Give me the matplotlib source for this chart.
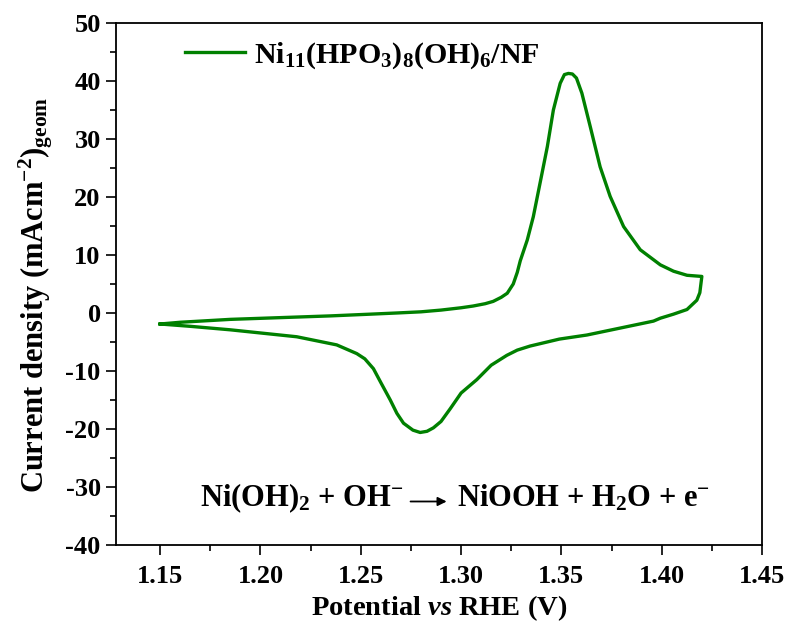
import numpy as np
import matplotlib
matplotlib.use("Agg")
import matplotlib.pyplot as plt
from matplotlib.ticker import MultipleLocator

plt.rcParams['font.family'] = ['Liberation Serif', 'DejaVu Serif']
plt.rcParams['font.weight'] = 'bold'
plt.rcParams['axes.unicode_minus'] = False
plt.rcParams['mathtext.fontset'] = 'custom'
plt.rcParams['mathtext.rm'] = 'Liberation Serif:bold'
plt.rcParams['mathtext.bf'] = 'Liberation Serif:bold'
plt.rcParams['mathtext.it'] = 'Liberation Serif:italic:bold'

# anodic sweep (1.15 -> 1.42 V)
v_anodic = [1.150, 1.160, 1.185, 1.210, 1.235, 1.255, 1.268, 1.280, 1.290, 1.300,
            1.306, 1.312, 1.316, 1.320, 1.323, 1.326, 1.328, 1.3295, 1.333, 1.336,
            1.340, 1.343, 1.346, 1.3494, 1.3515, 1.3535, 1.3555, 1.3575, 1.3602, 1.3644,
            1.3693, 1.3743, 1.381, 1.3893, 1.3993, 1.4059, 1.4126, 1.4200]
j_anodic = [-1.9, -1.6, -1.1, -0.8, -0.5, -0.2, 0.0, 0.2, 0.5, 0.9,
            1.2, 1.6, 2.0, 2.7, 3.4, 5.0, 7.0, 9.0, 12.6, 16.6,
            23.5, 28.7, 35.0, 39.6, 41.1, 41.3, 41.2, 40.5, 37.9, 32.1,
            25.2, 20.1, 14.9, 10.9, 8.3, 7.2, 6.5, 6.3]

# cathodic sweep (1.42 -> 1.15 V)
v_cathodic = [1.4200, 1.4190, 1.4175, 1.4126, 1.4059, 1.3993, 1.3959, 1.3793, 1.3627, 1.349,
              1.3344, 1.328, 1.3228, 1.315, 1.3078, 1.300, 1.2946, 1.2900, 1.2862, 1.2830,
              1.2796, 1.2760, 1.2713, 1.2680, 1.2647, 1.2600, 1.2563, 1.2520, 1.2480, 1.2380,
              1.2181, 1.1849, 1.1650, 1.1500]
j_cathodic = [6.3, 3.5, 2.2, 0.6, -0.2, -0.9, -1.4, -2.6, -3.8, -4.5,
              -5.7, -6.4, -7.3, -9.0, -11.5, -13.8, -16.5, -18.7, -19.8, -20.4,
              -20.6, -20.2, -19.0, -17.3, -15.0, -12.0, -9.6, -7.9, -7.0, -5.5,
              -4.1, -2.9, -2.3, -1.9]

x_ticks = [1.15, 1.20, 1.25, 1.30, 1.35, 1.40, 1.45]
y_ticks = [-40, -30, -20, -10, 0, 10, 20, 30, 40, 50]

fig = plt.figure(figsize=(7.86, 6.31), dpi=100)
ax = fig.add_axes([0.1476, 0.1363, 0.8219, 0.8273])

ax.plot(v_anodic + v_cathodic[1:], j_anodic + j_cathodic[1:], color='#008000', lw=2.4,
        label=r"Ni$_{11}$(HPO$_3$)$_8$(OH)$_6$/NF")

ax.set_xlim(1.128, 1.45)
ax.set_ylim(-40, 50)
ax.set_xticks(x_ticks)
ax.set_yticks(y_ticks)
ax.set_xticklabels(["%.2f" % t for t in x_ticks])
ax.xaxis.set_minor_locator(MultipleLocator(0.025))
ax.yaxis.set_minor_locator(MultipleLocator(5))
ax.tick_params(which='both', direction='out', width=1.2, labelsize=19, top=False, right=False)
ax.tick_params(which='major', length=7.5)
ax.tick_params(which='minor', length=4.5)
ax.tick_params(axis='x', pad=7)
for s in ax.spines.values():
    s.set_linewidth(1.3)

ax.set_xlabel(r"Potential $\mathit{vs}$ RHE (V)", fontsize=20.5, fontweight='bold', labelpad=4)
ax.set_ylabel(r"Current density (mAcm$^{-2}$)$_{\mathrm{geom}}$", fontsize=22, fontweight='bold')
ax.yaxis.set_label_coords(-0.095, 0.48)

ax.legend(loc='upper left', bbox_to_anchor=(0.065, 1.018), frameon=False, fontsize=21.5,
          handlelength=2.0, handletextpad=0.3)

# reaction equation: two text pieces joined by a small arrow
ax.text(1.1700, -33.4, r"Ni(OH)$_2$ + OH$^{-}$", fontsize=22, fontweight='bold', va='baseline')
ax.annotate('', xy=(1.2928, -32.5), xytext=(1.2748, -32.5),
            arrowprops=dict(arrowstyle='-|>', color='black', lw=1.3, mutation_scale=13,
                            shrinkA=0, shrinkB=0))
ax.text(1.2981, -33.4, r"NiOOH + H$_2$O + e$^{-}$", fontsize=22, fontweight='bold', va='baseline')

fig.savefig("out.png", dpi=100)
